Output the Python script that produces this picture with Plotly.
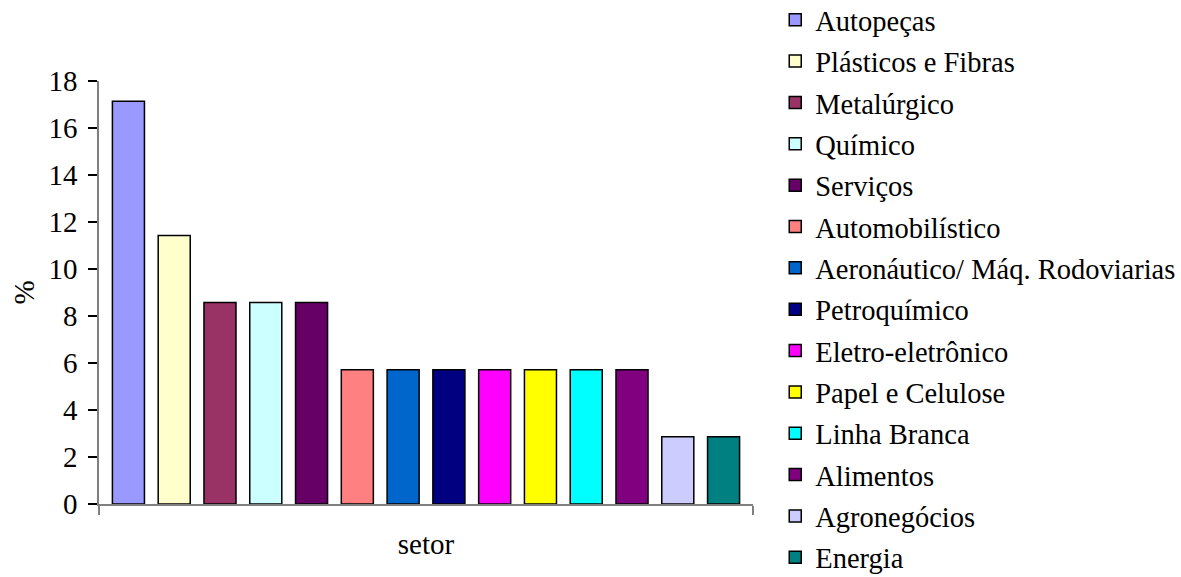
import plotly.graph_objects as go

# Share of companies per sector (%)
setores = [
    "Autopeças", "Plásticos e Fibras", "Metalúrgico", "Químico", "Serviços",
    "Automobilístico", "Aeronáutico/ Máq. Rodoviarias", "Petroquímico",
    "Eletro-eletrônico", "Papel e Celulose", "Linha Branca", "Alimentos",
    "Agronegócios", "Energia",
]
percentuais = [17.14, 11.43, 8.57, 8.57, 8.57, 5.71, 5.71, 5.71,
               5.71, 5.71, 5.71, 5.71, 2.86, 2.86]
cores = [
    "#9999FF", "#FFFFCC", "#993366", "#CCFFFF", "#660066",
    "#FF8080", "#0066CC", "#000080", "#FF00FF", "#FFFF00",
    "#00FFFF", "#800080", "#CCCCFF", "#008080",
]
y_ticks = [0, 2, 4, 6, 8, 10, 12, 14, 16, 18]

FONT = "Liberation Serif, Times New Roman, serif"

fig = go.Figure()
for nome, valor, cor in zip(setores, percentuais, cores):
    fig.add_trace(go.Bar(
        x=[0], y=[valor], name=nome,
        marker=dict(color=cor, line=dict(color="black", width=1.5)),
        legendgroup=nome,
    ))

fig.update_layout(
    width=1181, height=577,
    margin=dict(l=99, r=428, t=81, b=73, autoexpand=False),
    paper_bgcolor="white", plot_bgcolor="white",
    font=dict(family=FONT, size=29, color="black"),
    barmode="group", bargap=0.02, bargroupgap=0.3,
    showlegend=True,
    legend=dict(
        x=1.034, y=1.204, xanchor="left", yanchor="top",
        font=dict(family=FONT, size=28.5, color="black"),
        tracegroupgap=1.3, itemwidth=30, maxheight=700,
        bgcolor="rgba(0,0,0,0)",
    ),
    xaxis=dict(
        range=[-0.5, 0.5], tickvals=[-0.5, 0.5], showticklabels=False,
        ticks="outside", ticklen=9, tickcolor="#808080", tickwidth=1.5,
        showline=True, linecolor="#808080", linewidth=1.5,
        showgrid=False, zeroline=False,
        title=dict(text="setor", font=dict(family=FONT, size=29), standoff=20),
    ),
    yaxis=dict(
        range=[0, 18], tickvals=y_ticks,
        ticks="outside", ticklen=9, tickcolor="black", tickwidth=1.5,
        ticklabelstandoff=5,
        showline=True, linecolor="#808080", linewidth=1.5,
        showgrid=False, zeroline=False,
        tickfont=dict(family=FONT, size=29),
        title=dict(text="%", font=dict(family=FONT, size=29), standoff=5),
    ),
)

fig.write_html("out.html")
